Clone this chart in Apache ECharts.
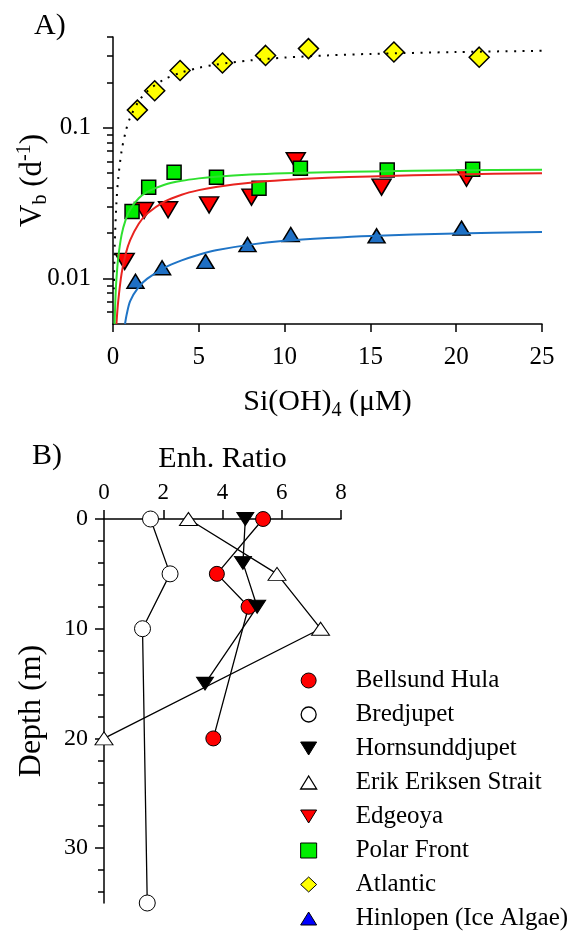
<!DOCTYPE html>
<html>
<head>
<meta charset="utf-8">
<script src="https://cdn.jsdelivr.net/npm/echarts@6.0.0/dist/echarts.min.js"></script>
<style>
  html, body { margin: 0; padding: 0; background: #fff; }
  #chart { width: 582px; height: 933px; }
</style>
</head>
<body>
<div id="chart"></div>
<script>
// ---- panel A: uptake rate vs Si(OH)4 ----
const edgeSi = [0.68, 1.81, 3.21, 5.6, 8.07, 10.65, 15.65, 20.6];
const edgeVb = [0.013, 0.0283, 0.0286, 0.0308, 0.0347, 0.0605, 0.0404, 0.0463];
const polarSi = [1.11, 2.08, 3.56, 6.03, 8.51, 10.92, 15.98, 20.96];
const polarVb = [0.0279, 0.0404, 0.0507, 0.047, 0.0398, 0.0539, 0.0525, 0.0531];
const atlSi = [1.42, 2.43, 3.91, 6.38, 8.89, 11.39, 16.37, 21.34];
const atlVb = [0.131, 0.176, 0.24, 0.269, 0.302, 0.335, 0.318, 0.294];
const hinSi = [1.31, 2.86, 5.39, 7.84, 10.36, 15.36, 20.31];
const hinVb = [0.0096, 0.0118, 0.013, 0.0168, 0.0196, 0.0192, 0.0216];

// fitted curves
const atlFitSi = [0.05, 0.1, 0.2, 0.3, 0.5, 0.75, 1, 1.5, 2, 3, 4, 5, 6, 8, 10, 12.5, 15, 20, 25];
const atlFitVb = [0.0085, 0.0167, 0.0318, 0.0457, 0.07, 0.0955, 0.117, 0.15, 0.175, 0.21, 0.233, 0.25, 0.2625, 0.28, 0.292, 0.302, 0.309, 0.318, 0.324];
const polarFitSi = [0.09, 0.15, 0.2, 0.3, 0.5, 0.75, 1, 1.5, 2, 3, 4, 5, 6, 8, 10, 12.5, 15, 20, 25];
const polarFitVb = [0.005, 0.0078, 0.0099, 0.0136, 0.0195, 0.0248, 0.0287, 0.0341, 0.0376, 0.0419, 0.0445, 0.0462, 0.0474, 0.049, 0.05, 0.0508, 0.0514, 0.0522, 0.0526];
const edgeFitSi = [0.2, 0.3, 0.5, 0.75, 1, 1.5, 2, 3, 4, 5, 6, 8, 10, 12.5, 15, 20, 25];
const edgeFitVb = [0.005, 0.007, 0.0108, 0.0147, 0.018, 0.0231, 0.027, 0.0324, 0.036, 0.0386, 0.0405, 0.0432, 0.045, 0.0466, 0.0476, 0.0491, 0.05];
const hinFitSi = [0.7, 0.8, 1, 1.5, 2, 3, 4, 5, 6, 8, 10, 12.5, 15, 20, 25];
const hinFitVb = [0.005, 0.0058, 0.0071, 0.0088, 0.01, 0.0118, 0.0132, 0.0144, 0.0154, 0.0168, 0.0178, 0.0186, 0.0192, 0.0199, 0.0204];

const vbMajor = [0.01, 0.1];
const vbMinor = [0.006, 0.007, 0.008, 0.009, 0.02, 0.03, 0.04, 0.05, 0.06, 0.07, 0.08, 0.09, 0.2, 0.3, 0.4];

// ---- panel B: enhancement ratio vs depth ----
const bellRatio = [5.37, 3.81, 4.88, 3.69];
const bellDepth = [0, 5, 8, 20];
const bredRatio = [1.57, 2.23, 1.30, 1.46];
const bredDepth = [0, 5, 10, 35];
const hornRatio = [4.77, 4.69, 5.17, 3.41];
const hornDepth = [0, 4, 8, 15];
const erikRatio = [2.85, 5.84, 7.31, 0];
const erikDepth = [0, 5, 10, 20];

const depthMajor = [0, 10, 20, 30];
const depthMinor = [2, 4, 6, 8, 12, 14, 16, 18, 22, 24, 26, 28, 32, 34];

const FONT = 'Liberation Serif';
const TRI_DOWN = 'path://M0,0L16,0L8,13Z';
const TRI_UP = 'path://M8,0L16,13L0,13Z';

function zip(xs, ys) {
    return xs.map((x, i) => [x, ys[i]]);
}

const rich = {
    sub: { fontSize: 20, fontFamily: FONT, color: '#000', padding: [17, 0, 0, 0] },
    sup: { fontSize: 20, fontFamily: FONT, color: '#000', padding: [0, 0, 15, 0] }
};

let chart = echarts.init(document.getElementById('chart'), null, { renderer: 'canvas' });

function fitLine(name, xs, ys, color, type, width) {
    return {
        name: name,
        type: 'line',
        xAxisIndex: 0,
        yAxisIndex: 0,
        data: zip(xs, ys),
        symbol: 'none',
        smooth: 0.3,
        silent: true,
        lineStyle: { color: color, width: width, type: type }
    };
}

function points(name, xs, ys, symbol, size, color, rotate) {
    return {
        name: name,
        type: 'scatter',
        xAxisIndex: 0,
        yAxisIndex: 0,
        data: zip(xs, ys),
        symbol: symbol,
        symbolSize: size,
        symbolRotate: rotate || 0,
        itemStyle: { color: color, borderColor: '#000', borderWidth: 1.5, opacity: 1 }
    };
}

function profile(name, xs, ys, symbol, size, color, rotate) {
    return {
        name: name,
        type: 'line',
        xAxisIndex: 1,
        yAxisIndex: 2,
        data: zip(xs, ys),
        symbol: symbol,
        symbolSize: size,
        symbolRotate: rotate || 0,
        showSymbol: true,
        lineStyle: { color: '#000', width: 1.3 },
        itemStyle: { color: color, borderColor: '#000', borderWidth: 1 }
    };
}

const axisText = { color: '#000', fontFamily: FONT };
const blackLine = { color: '#000', width: 1.5 };

let option = {
    backgroundColor: '#fff',
    animation: false,
    textStyle: { fontFamily: FONT, color: '#000' },
    title: [
        { text: 'A)', left: 29, top: 6, textStyle: { fontFamily: FONT, fontSize: 30, fontWeight: 'normal', color: '#000' } },
        { text: 'B)', left: 27, top: 436, textStyle: { fontFamily: FONT, fontSize: 30, fontWeight: 'normal', color: '#000' } }
    ],
    legend: {
        orient: 'vertical',
        left: 300,
        top: 668,
        padding: 0,
        itemWidth: 16,
        itemHeight: 15,
        itemGap: 9,
        selectedMode: false,
        textStyle: { fontFamily: FONT, fontSize: 25, color: '#000', lineHeight: 25, padding: [0, 0, 0, 34] },
        data: [
            { name: 'Bellsund Hula', icon: 'circle', itemStyle: { color: '#ff0000', borderColor: '#000', borderWidth: 1 } },
            { name: 'Bredjupet', icon: 'circle', itemStyle: { color: '#fff', borderColor: '#000', borderWidth: 1.3 } },
            { name: 'Hornsunddjupet', icon: TRI_DOWN, itemStyle: { color: '#000', borderColor: '#000', borderWidth: 1 } },
            { name: 'Erik Eriksen Strait', icon: TRI_UP, itemStyle: { color: '#fff', borderColor: '#000', borderWidth: 1.3 } },
            { name: 'Edgeoya', icon: TRI_DOWN, itemStyle: { color: '#ff0000', borderColor: '#000', borderWidth: 1 } },
            { name: 'Polar Front', icon: 'rect', itemStyle: { color: '#00ee00', borderColor: '#000', borderWidth: 1 } },
            { name: 'Atlantic', icon: 'diamond', itemStyle: { color: '#ffff00', borderColor: '#000', borderWidth: 1 } },
            { name: 'Hinlopen (Ice Algae)', icon: TRI_UP, itemStyle: { color: '#0000ff', borderColor: '#000', borderWidth: 1 } }
        ]
    },
    grid: [
        { left: 113, top: 37, width: 429, height: 287, outerBoundsMode: 'none' },
        { left: 104, top: 519, width: 237, height: 384, outerBoundsMode: 'none' }
    ],
    xAxis: [
        {
            gridIndex: 0,
            type: 'value',
            min: 0,
            max: 25,
            interval: 5,
            axisLine: { onZero: false, lineStyle: blackLine },
            axisTick: { length: 8, lineStyle: blackLine },
            axisLabel: Object.assign({ fontSize: 25, margin: 21 }, axisText),
            splitLine: { show: false },
            name: 'Si(OH){sub|4} (μM)',
            nameLocation: 'middle',
            nameGap: 60,
            nameTextStyle: Object.assign({ fontSize: 30, rich: rich }, axisText)
        },
        {
            gridIndex: 1,
            type: 'value',
            position: 'top',
            min: 0,
            max: 8,
            interval: 2,
            axisLine: { onZero: false, lineStyle: blackLine },
            axisTick: { length: 9, lineStyle: blackLine },
            axisLabel: Object.assign({ fontSize: 23, margin: 15 }, axisText),
            splitLine: { show: false },
            name: 'Enh. Ratio',
            nameLocation: 'middle',
            nameGap: 45,
            nameTextStyle: Object.assign({ fontSize: 30 }, axisText)
        }
    ],
    yAxis: [
        {
            gridIndex: 0,
            type: 'log',
            logBase: 10,
            min: 0.005,
            max: 0.4,
            position: 'left',
            axisLine: { show: true, onZero: false, lineStyle: blackLine },
            axisTick: { show: true, length: 10, customValues: vbMajor, lineStyle: blackLine },
            axisLabel: Object.assign({
                fontSize: 25,
                margin: 22,
                customValues: vbMajor,
                formatter: function (v) { return String(+(+v).toPrecision(2)); }
            }, axisText),
            splitLine: { show: false },
            name: 'V{sub|b} (d{sup|-1})',
            nameLocation: 'middle',
            nameRotate: 90,
            nameGap: 62,
            nameMoveOverlap: false,
            nameTextStyle: Object.assign({ fontSize: 31, rich: rich }, axisText)
        },
        {
            gridIndex: 0,
            type: 'log',
            logBase: 10,
            min: 0.005,
            max: 0.4,
            position: 'left',
            axisLine: { show: false },
            axisTick: { show: true, length: 6, customValues: vbMinor, lineStyle: blackLine },
            axisLabel: { show: false },
            splitLine: { show: false }
        },
        {
            gridIndex: 1,
            type: 'value',
            inverse: true,
            min: 0,
            max: 35,
            position: 'left',
            axisLine: { show: true, onZero: false, lineStyle: blackLine },
            axisTick: { show: true, length: 9, customValues: depthMajor, lineStyle: blackLine },
            axisLabel: Object.assign({ fontSize: 24, margin: 16, customValues: depthMajor }, axisText),
            splitLine: { show: false },
            name: 'Depth (m)',
            nameLocation: 'middle',
            nameRotate: 90,
            nameGap: 56,
            nameTextStyle: Object.assign({ fontSize: 32 }, axisText)
        },
        {
            gridIndex: 1,
            type: 'value',
            inverse: true,
            min: 0,
            max: 35,
            position: 'left',
            axisLine: { show: false },
            axisTick: { show: true, length: 6, customValues: depthMinor, lineStyle: blackLine },
            axisLabel: { show: false },
            splitLine: { show: false }
        }
    ],
    series: [
        fitLine('Atlantic fit', atlFitSi, atlFitVb, '#000', [2, 6.5], 2),
        fitLine('Edgeoya fit', edgeFitSi, edgeFitVb, '#e8231f', 'solid', 2),
        fitLine('Polar Front fit', polarFitSi, polarFitVb, '#2ee02e', 'solid', 2),
        fitLine('Hinlopen fit', hinFitSi, hinFitVb, '#1f74c6', 'solid', 2),
        points('Edgeoya', edgeSi, edgeVb, 'triangle', [19, 16], '#ff0000', 180),
        points('Polar Front', polarSi, polarVb, 'rect', 14, '#00ee00'),
        points('Atlantic', atlSi, atlVb, 'diamond', 20, '#ffff00'),
        points('Hinlopen (Ice Algae)', hinSi, hinVb, 'triangle', [17, 14], '#1f6fc4'),
        profile('Bellsund Hula', bellRatio, bellDepth, 'circle', 15, '#ff0000'),
        profile('Bredjupet', bredRatio, bredDepth, 'circle', 16, '#fff'),
        profile('Hornsunddjupet', hornRatio, hornDepth, 'triangle', [17, 13], '#000', 180),
        profile('Erik Eriksen Strait', erikRatio, erikDepth, 'triangle', [18, 13], '#fff')
    ]
};

chart.setOption(option);
</script>
</body>
</html>
